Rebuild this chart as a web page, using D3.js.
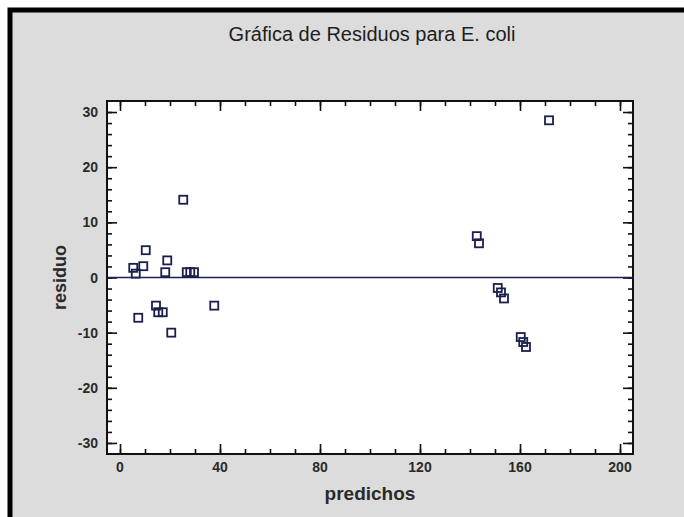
<!DOCTYPE html>
<html>
<head>
<meta charset="utf-8">
<script src="https://d3js.org/d3.v7.min.js"></script>
<style>
  html, body { margin: 0; padding: 0; background: #ffffff; }
  svg { display: block; }
</style>
</head>
<body>
<svg id="chart" width="684" height="517"></svg>
<script>
// ---- data ----
const predichos = [171.6, 25.3, 10.3, 18.9, 9.3, 5.3, 6.3, 18.1, 26.7, 28.1, 29.6,
                   14.4, 15.3, 17.1, 7.3, 37.7, 20.5,
                   142.7, 143.6, 151.1, 152.4, 153.6, 160.3, 161.3, 162.4];
const residuos  = [28.5, 14.1, 4.95, 3.1, 2.05, 1.75, 0.7, 0.96, 0.96, 0.96, 0.96,
                   -5.1, -6.3, -6.3, -7.3, -5.1, -10.0,
                   7.5, 6.2, -1.9, -2.7, -3.8, -10.8, -11.7, -12.6];
const xTickLabels = [0, 40, 80, 120, 160, 200];
const yTickLabels = [-30, -20, -10, 0, 10, 20, 30];
const xMinorTicks = d3.range(0, 201, 10);
const yMinorTicks = d3.range(-30, 31, 2);
const title = "Gráfica de Residuos para E. coli";
const xTitle = "predichos";
const yTitle = "residuo";

// ---- layout ----
const svg = d3.select("#chart");
const L = 107, R = 633, T = 101, B = 454;
const x = d3.scaleLinear().domain([-5.2, 205.2]).range([L, R]);
const y = d3.scaleLinear().domain([-32, 32]).range([B, T]);

// background panel with black frame (top/left visible)
svg.append("rect").attr("x", 10).attr("y", 10).attr("width", 720).attr("height", 560)
  .attr("fill", "#dcdcdc").attr("stroke", "#000").attr("stroke-width", 5);

// plot area
svg.append("rect").attr("x", L).attr("y", T).attr("width", R - L).attr("height", B - T)
  .attr("fill", "#ffffff");

const labelFont = "'Liberation Sans Narrow', 'Arial Narrow', 'Liberation Sans', Arial, sans-serif";
const textFont = "'Liberation Sans', Arial, sans-serif";

// axes: ticks pointing inward on all four sides
function styleAxis(g) {
  g.select(".domain").remove();
  g.selectAll("line").attr("stroke", "#111").attr("stroke-width", 1.6);
}
// minor ticks
svg.append("g").attr("transform", `translate(0,${B})`)
  .call(d3.axisTop(x).tickValues(xMinorTicks).tickSize(5).tickFormat(""))
  .call(styleAxis);
svg.append("g").attr("transform", `translate(0,${T})`)
  .call(d3.axisBottom(x).tickValues(xMinorTicks).tickSize(5).tickFormat(""))
  .call(styleAxis);
svg.append("g").attr("transform", `translate(${L},0)`)
  .call(d3.axisRight(y).tickValues(yMinorTicks).tickSize(5).tickFormat(""))
  .call(styleAxis);
svg.append("g").attr("transform", `translate(${R},0)`)
  .call(d3.axisLeft(y).tickValues(yMinorTicks).tickSize(5).tickFormat(""))
  .call(styleAxis);
// major ticks
svg.append("g").attr("transform", `translate(0,${B})`)
  .call(d3.axisTop(x).tickValues(xTickLabels).tickSize(10).tickFormat(""))
  .call(styleAxis);
svg.append("g").attr("transform", `translate(0,${T})`)
  .call(d3.axisBottom(x).tickValues(xTickLabels).tickSize(10).tickFormat(""))
  .call(styleAxis);
svg.append("g").attr("transform", `translate(${L},0)`)
  .call(d3.axisRight(y).tickValues(yTickLabels).tickSize(10).tickFormat(""))
  .call(styleAxis);
svg.append("g").attr("transform", `translate(${R},0)`)
  .call(d3.axisLeft(y).tickValues(yTickLabels).tickSize(10).tickFormat(""))
  .call(styleAxis);

// tick labels
svg.append("g").selectAll("text").data(xTickLabels).join("text")
  .attr("x", d => x(d)).attr("y", B + 18)
  .attr("text-anchor", "middle")
  .attr("font-family", labelFont).attr("font-weight", "bold").attr("font-size", 14)
  .attr("fill", "#2a2a2a").text(d => d);
svg.append("g").selectAll("text").data(yTickLabels).join("text")
  .attr("x", L - 9).attr("y", d => y(d) + 5)
  .attr("text-anchor", "end")
  .attr("font-family", labelFont).attr("font-weight", "bold").attr("font-size", 14)
  .attr("fill", "#2a2a2a").text(d => d);

// frame
svg.append("rect").attr("x", L).attr("y", T).attr("width", R - L).attr("height", B - T)
  .attr("fill", "none").attr("stroke", "#111").attr("stroke-width", 2);

// zero reference line
svg.append("line")
  .attr("x1", x(-5.2)).attr("x2", x(205.2)).attr("y1", y(0)).attr("y2", y(0))
  .attr("stroke", "#1b2250").attr("stroke-width", 1.6);

// points
svg.append("g").selectAll("rect").data(predichos.map((p, i) => [p, residuos[i]])).join("rect")
  .attr("x", d => x(d[0]) - 4).attr("y", d => y(d[1]) - 4)
  .attr("width", 8).attr("height", 8)
  .attr("fill", "none").attr("stroke", "#1a1f4e").attr("stroke-width", 1.8);

// titles
svg.append("text").attr("x", 372).attr("y", 41).attr("text-anchor", "middle")
  .attr("font-family", textFont).attr("font-size", 20)
  .attr("fill", "#1e1e1e").text(title);
svg.append("text").attr("x", 370).attr("y", 500).attr("text-anchor", "middle")
  .attr("font-family", textFont).attr("font-weight", "bold")
  .attr("font-size", 19).attr("fill", "#2a2a2a").text(xTitle);
svg.append("text").attr("transform", `translate(66,${y(0)}) rotate(-90)`)
  .attr("text-anchor", "middle")
  .attr("font-family", textFont).attr("font-weight", "bold")
  .attr("font-size", 18).attr("fill", "#2a2a2a").text(yTitle);
</script>
</body>
</html>
